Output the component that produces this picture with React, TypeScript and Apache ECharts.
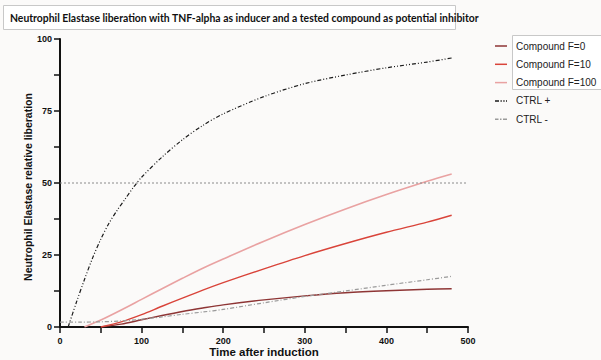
import React, { useEffect, useRef } from "react";
import * as echarts from "echarts";

const titleText =
  "Neutrophil Elastase liberation with TNF-alpha as inducer and a tested compound as potential inhibitor";
const xAxisName = "Time after induction";
const yAxisName = "Neutrophil Elastase relative liberation";

const seriesNames = ["Compound F=0", "Compound F=10", "Compound F=100", "CTRL +", "CTRL -"];

const f0X = [50, 75, 100, 125, 150, 175, 200, 250, 300, 350, 400, 450, 480];
const f0Y = [0, 1, 2.5, 4, 5.4, 6.6, 7.7, 9.4, 10.8, 11.9, 12.6, 13.1, 13.3];

const f10X = [50, 75, 100, 125, 150, 175, 200, 250, 300, 350, 400, 450, 480];
const f10Y = [0, 1.8, 4.3, 7.2, 10, 12.8, 15.4, 20.2, 24.8, 29, 32.9, 36.4, 38.8];

const f100X = [30, 50, 75, 100, 125, 150, 175, 200, 250, 300, 350, 400, 450, 480];
const f100Y = [0, 2.4, 5.9, 9.6, 13.3, 16.9, 20.4, 23.6, 29.8, 35.6, 41, 46, 50.6, 53.1];

const ctrlPlusX = [10, 20, 30, 40, 50, 60, 70, 80, 90, 100, 125, 150, 175, 200, 250, 300, 350, 400, 450, 480];
const ctrlPlusY = [0, 8.5, 16.5, 24, 30.5, 36, 40.5, 44.5, 48.5, 52, 59, 65, 70, 74, 80, 84.5, 87.5, 90, 92, 93.4];

const ctrlMinusX = [0, 25, 50, 75, 100, 125, 150, 175, 200, 250, 300, 350, 400, 450, 480];
const ctrlMinusY = [1.7, 1.7, 1.8, 2.1, 2.7, 3.5, 4.4, 5.2, 6.1, 8.4, 10.6, 12.5, 14.5, 16.4, 17.6];

const refLineX = [0, 500];
const refLineY = [50, 50];

const pairs = (xs: number[], ys: number[]) => xs.map((x, i) => [x, ys[i]]);

const solidIcon = "path://M0,0h12v1.5h-12z";
const ctrlPlusIcon =
  "path://M0,0h4v1.5h-4z M5.5,0h1.3v1.5h-1.3z M8.3,0h1.3v1.5h-1.3z M11,0h1v1.5h-1z";
const ctrlMinusIcon = "path://M0,0h3.5v1.5h-3.5z M5,0h1.5v1.5h-1.5z M8,0h4v1.5h-4z";

export default function App() {
  const ref = useRef<HTMLDivElement>(null);
  useEffect(() => {
    if (!ref.current) return;
    const chart = echarts.init(ref.current, undefined, { renderer: "svg" });
    const axisFont = "Liberation Sans";
    const lineSeries = (name: string, data: number[][], color: string, type: any, width: number) => ({
      name,
      type: "line",
      data,
      smooth: 0.3,
      showSymbol: false,
      symbol: "none",
      lineStyle: { color, width, type },
      itemStyle: { color },
    });
    const icons = [solidIcon, solidIcon, solidIcon, ctrlPlusIcon, ctrlMinusIcon];
    chart.setOption({
      animation: false,
      backgroundColor: "#fbfaf9",
      grid: {
        left: 60,
        right: 133,
        top: 39,
        bottom: 33,
        containLabel: false,
        outerBoundsMode: "none",
      },
      xAxis: {
        type: "value",
        min: 0,
        max: 500,
        interval: 50,
        axisLine: { show: true, onZero: false, lineStyle: { color: "#111", width: 2 } },
        axisTick: { show: true, length: 6, lineStyle: { color: "#111", width: 1.5 } },
        axisLabel: {
          margin: 9,
          fontFamily: axisFont,
          fontWeight: "bold",
          fontSize: 9,
          color: "#111",
          formatter: (v: number) => (v % 100 === 0 ? String(v) : ""),
        },
        splitLine: { show: false },
      },
      yAxis: {
        type: "value",
        min: 0,
        max: 100,
        interval: 12.5,
        axisLine: { show: true, lineStyle: { color: "#111", width: 2 } },
        axisTick: { show: true, length: 6, lineStyle: { color: "#111", width: 1.5 } },
        axisLabel: {
          margin: 8,
          fontFamily: axisFont,
          fontWeight: "bold",
          fontSize: 9,
          color: "#111",
          formatter: (v: number) => (v % 25 === 0 ? String(v) : ""),
        },
        splitLine: { show: false },
      },
      legend: {
        data: seriesNames.map((name, i) => ({ name, icon: icons[i] })),
        orient: "vertical",
        left: 495,
        top: 41,
        padding: 0,
        itemWidth: 12,
        itemHeight: 1.5,
        itemGap: 8.3,
        symbolKeepAspect: false,
        textStyle: { fontFamily: axisFont, fontSize: 10, color: "#222", padding: [0, 0, 0, 4] },
      },
      graphic: [
        {
          type: "rect",
          z: 0,
          shape: { x: 3.5, y: 5.5, width: 452, height: 24 },
          style: { fill: "#ffffff", stroke: "#c8c8c8", lineWidth: 1 },
        },
        {
          type: "text",
          z: 1,
          x: 10,
          y: 17.5,
          style: {
            text: titleText,
            fontFamily: "Lato",
            fontWeight: "bold",
            fontSize: 10.4,
            fill: "#111",
            verticalAlign: "middle",
          },
        },
        {
          type: "text",
          z: 1,
          x: 28,
          y: 187,
          rotation: Math.PI / 2,
          style: {
            text: yAxisName,
            fontFamily: axisFont,
            fontWeight: "bold",
            fontSize: 10.5,
            fill: "#111",
            align: "center",
            verticalAlign: "middle",
          },
        },
        {
          type: "text",
          z: 1,
          x: 264,
          y: 352,
          style: {
            text: xAxisName,
            fontFamily: axisFont,
            fontWeight: "bold",
            fontSize: 11.5,
            fill: "#111",
            align: "center",
            verticalAlign: "middle",
          },
        },
        {
          type: "rect",
          z: 0,
          shape: { x: 512.5, y: 35.5, width: 100, height: 54 },
          style: { fill: "#ffffff", stroke: "#c8c8c8", lineWidth: 1 },
        },
      ],
      series: [
        lineSeries(seriesNames[0], pairs(f0X, f0Y), "#8e3535", "solid", 1.4),
        lineSeries(seriesNames[1], pairs(f10X, f10Y), "#d9443a", "solid", 1.4),
        lineSeries(seriesNames[2], pairs(f100X, f100Y), "#e9a2a2", "solid", 1.6),
        lineSeries(seriesNames[3], pairs(ctrlPlusX, ctrlPlusY), "#1a1a1a", [4, 2, 1, 2, 1, 2], 1.2),
        lineSeries(seriesNames[4], pairs(ctrlMinusX, ctrlMinusY), "#9a9a9a", [4, 2, 1, 2], 1.2),
        {
          name: "ref",
          type: "line",
          data: pairs(refLineX, refLineY),
          showSymbol: false,
          symbol: "none",
          silent: true,
          lineStyle: { color: "#8a8a8a", width: 1, type: [2, 2] },
        },
      ],
    });
    return () => chart.dispose();
  }, []);
  return (
    <div
      ref={ref}
      style={{ position: "fixed", left: 0, top: 0, width: 601, height: 360 }}
    />
  );
}
